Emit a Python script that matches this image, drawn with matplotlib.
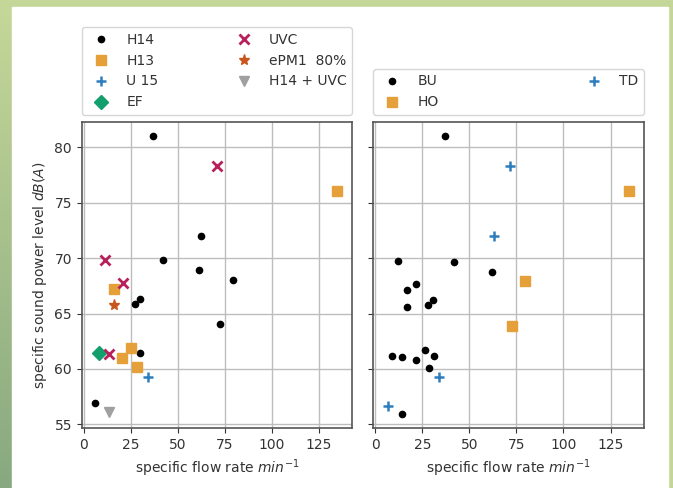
import numpy as np
import matplotlib
matplotlib.use('Agg')
import matplotlib.pyplot as plt
from matplotlib.patches import Rectangle

# left panel: filter classes
h14_x = [5.7, 27.0, 29.8, 30.1, 37.0, 42.0, 61.5, 62.6, 72.3, 79.4]
h14_y = [56.9, 65.9, 66.3, 61.4, 81.0, 69.8, 68.9, 72.0, 64.1, 68.0]
h13_x = [16.0, 20.4, 25.2, 28.0, 134.8]
h13_y = [67.2, 61.0, 61.9, 60.2, 76.1]
u15_x = [34.0]
u15_y = [59.3]
ef_x = [8.2]
ef_y = [61.4]
uvc_x = [11.0, 13.5, 20.7, 70.9]
uvc_y = [69.8, 61.35, 67.8, 78.35]
epm_x = [15.8]
epm_y = [65.8]
h14uvc_x = [13.3]
h14uvc_y = [56.1]

# right panel: device types
bu_x = [8.9, 12.1, 14.0, 14.2, 16.7, 16.7, 21.6, 21.8, 26.4, 27.8, 28.7, 30.7, 31.2, 37.0, 42.0, 62.1]
bu_y = [61.2, 69.75, 55.9, 61.1, 67.1, 65.6, 60.8, 67.7, 61.7, 65.8, 60.1, 66.2, 61.2, 81.0, 69.7, 68.8]
td_x = [6.9, 34.0, 63.1, 71.4]
td_y = [56.7, 59.3, 72.0, 78.35]
ho_x = [72.7, 79.8, 134.8]
ho_y = [63.9, 67.9, 76.1]

c_orange = '#e5a03a'
c_blue = '#2e7dbd'
c_green = '#139e6e'
c_crimson = '#b8205c'
c_brown = '#c8561c'
c_gray = '#a0a0a0'

W, H = 673, 488
fig = plt.figure(figsize=(W / 100, H / 100), dpi=100)

# greenish background with white page
bg = fig.add_axes([0, 0, 1, 1], zorder=-10)
yy, xx = np.mgrid[0:H, 0:W]
t = (yy / H) * (1 - xx / W)
top = np.array([198, 216, 153]) / 255
bot = np.array([135, 168, 128]) / 255
img = top[None, None, :] * (1 - t[..., None]) + bot[None, None, :] * t[..., None]
bg.imshow(img, extent=[0, W, 0, H], aspect='auto')
bg.add_patch(Rectangle((12, 0), 656, H - 7, color='white'))
bg.set_xlim(0, W)
bg.set_ylim(0, H)
bg.axis('off')

ax1 = fig.add_axes([81.7 / W, 1 - 428 / H, 270.3 / W, 306 / H])
ax2 = fig.add_axes([373 / W, 1 - 428 / H, 271 / W, 306 / H], sharey=ax1)

ax1.plot(h14_x, h14_y, 'o', color='black', ms=4.5, ls='', label='H14')
ax1.plot(h13_x, h13_y, 's', color=c_orange, ms=7.5, ls='', label='H13')
ax1.plot(u15_x, u15_y, '+', color=c_blue, ms=7, mew=1.8, ls='', label='U 15')
ax1.plot(ef_x, ef_y, 'D', color=c_green, ms=7.5, ls='', label='EF')
ax1.plot(uvc_x, uvc_y, 'x', color=c_crimson, ms=7, mew=2, ls='', label='UVC')
ax1.plot(epm_x, epm_y, '*', color=c_brown, ms=8, ls='', label='ePM1  80%')
ax1.plot(h14uvc_x, h14uvc_y, 'v', color=c_gray, ms=7.5, ls='', label='H14 + UVC')

ax2.plot(bu_x, bu_y, 'o', color='black', ms=4.5, ls='', label='BU')
ax2.plot(ho_x, ho_y, 's', color=c_orange, ms=7.5, ls='', label='HO')
ax2.plot(td_x, td_y, '+', color=c_blue, ms=7, mew=1.8, ls='', label='TD')

for ax in (ax1, ax2):
    ax.set_xlim(-1.2, 142.8)
    ax.set_xticks([0, 25, 50, 75, 100, 125])
    ax.grid(True, color='#bdbdbd', linewidth=1)
    ax.set_axisbelow(True)
    for s in ax.spines.values():
        s.set_color('#555555')
        s.set_linewidth(1.2)
    ax.tick_params(colors='#333333', labelcolor='#333333')
    ax.set_xlabel('specific flow rate $min^{-1}$', color='#333333')
    ax.legend(bbox_to_anchor=(0, 1.023, 1, 0.2), loc='lower left', mode='expand',
              borderaxespad=0, ncol=2, fontsize=10, labelcolor='#333333')

ax1.set_ylim(54.67, 82.3)
ax1.set_yticks([55, 60, 65, 70, 75, 80])
ax1.set_ylabel('specific sound power level $dB(A)$', color='#333333')
plt.setp(ax2.get_yticklabels(), visible=False)

fig.savefig('out.png', dpi=100)
